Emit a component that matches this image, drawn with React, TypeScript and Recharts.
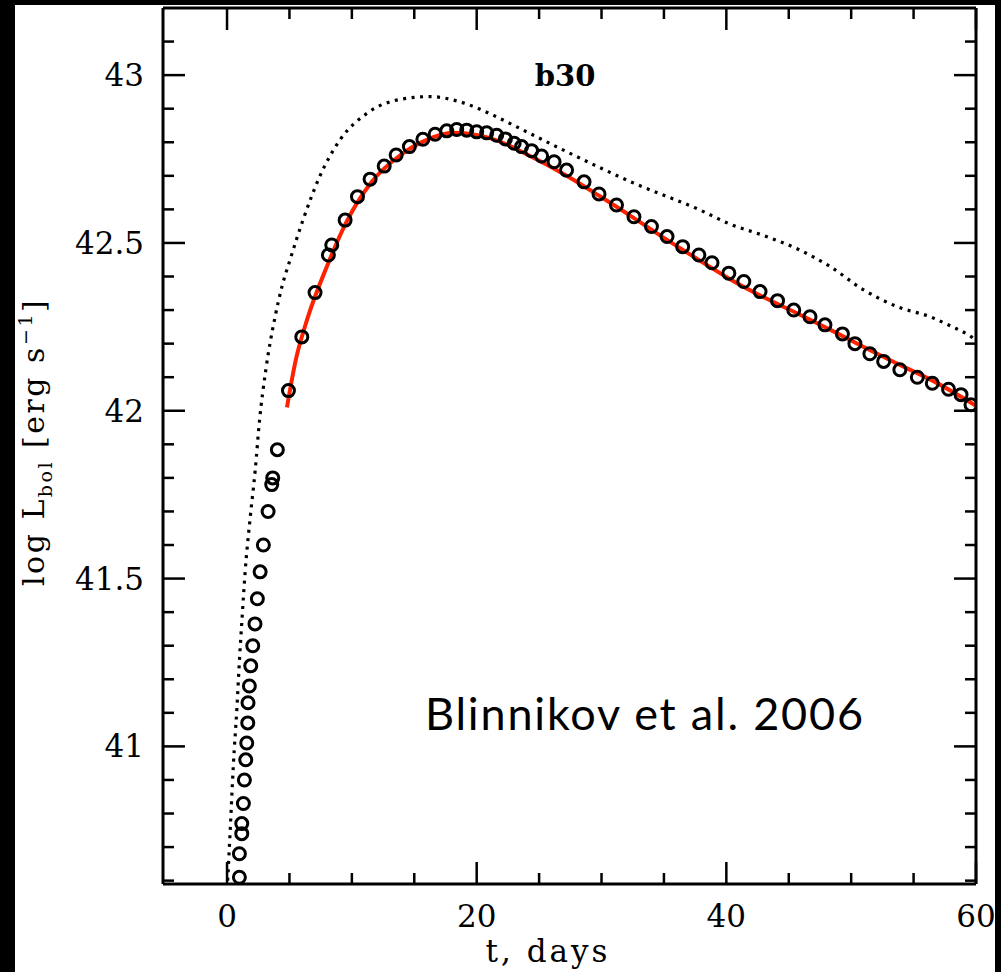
import React from 'react';
import { ComposedChart, Line, Scatter, XAxis, YAxis } from 'recharts';

// dotted model curve
const modelT = [0.05, 0.24, 0.5, 0.8, 1.0, 1.2, 1.45, 1.85, 2.25, 2.6, 3.1, 3.85, 4.4, 5.05, 6.1, 7.45, 9.05, 11.2, 13.9, 16.3, 18.7, 21.35, 23.2, 27.2, 32.6, 37.9, 40.3, 43.0, 45.7, 48.3, 51.0, 53.7, 56.4, 58.0, 59.6, 60];
const modelL = [40.6, 40.74, 40.94, 41.12, 41.26, 41.38, 41.52, 41.68, 41.82, 41.97, 42.12, 42.28, 42.37, 42.45, 42.57, 42.7, 42.807, 42.886, 42.928, 42.936, 42.92, 42.88, 42.846, 42.772, 42.678, 42.598, 42.556, 42.522, 42.482, 42.43, 42.36, 42.31, 42.279, 42.252, 42.221, 42.21];

// red fit
const fitT = [4.8, 5.5, 6.4, 8.0, 9.6, 11.5, 13.9, 16.0, 18.1, 20.0, 22.0, 24.0, 27.2, 30.0, 32.6, 35.0, 37.9, 40.3, 43.0, 45.7, 48.5, 51.0, 53.7, 56.4, 60];
const fitL = [42.01, 42.15, 42.27, 42.43, 42.565, 42.678, 42.762, 42.807, 42.828, 42.822, 42.8, 42.764, 42.7, 42.636, 42.574, 42.515, 42.447, 42.392, 42.338, 42.29, 42.238, 42.19, 42.14, 42.092, 42.015];

// open circles
const obsT = [0.99, 0.99, 1.18, 1.18, 1.31, 1.39, 1.5, 1.58, 1.66, 1.68, 1.79, 1.9, 2.06, 2.24, 2.43, 2.65, 2.91, 3.29, 3.58, 3.66, 4.03, 4.92, 5.99, 7.05, 8.12, 8.39, 9.46, 10.45, 11.46, 12.59, 13.55, 14.61, 15.69, 16.67, 17.6, 18.4, 19.2, 20.0, 20.8, 21.6, 22.3, 23.0, 23.6, 24.4, 25.2, 26.2, 27.2, 28.6, 29.8, 31.2, 32.6, 34.0, 35.25, 36.5, 37.8, 38.85, 40.2, 41.4, 42.7, 44.1, 45.4, 46.7, 47.9, 49.3, 50.3, 51.5, 52.6, 53.9, 55.3, 56.5, 57.8, 58.8, 59.6];
const obsL = [40.61, 40.68, 40.74, 40.77, 40.83, 40.9, 40.96, 41.01, 41.07, 41.13, 41.18, 41.24, 41.3, 41.365, 41.44, 41.52, 41.6, 41.7, 41.78, 41.8, 41.884, 42.06, 42.22, 42.352, 42.464, 42.494, 42.568, 42.638, 42.69, 42.729, 42.762, 42.787, 42.809, 42.824, 42.834, 42.838, 42.836, 42.831, 42.828, 42.821, 42.81, 42.797, 42.787, 42.775, 42.759, 42.742, 42.717, 42.682, 42.646, 42.613, 42.578, 42.549, 42.519, 42.489, 42.464, 42.441, 42.41, 42.385, 42.355, 42.328, 42.3, 42.28, 42.256, 42.229, 42.2, 42.17, 42.147, 42.122, 42.1, 42.082, 42.064, 42.048, 42.018];

const xTicks = [0, 5, 10, 15, 20, 25, 30, 35, 40, 45, 50, 55, 60];
const xLabels = [0, 20, 40, 60];
const yTicks = [40.6, 40.7, 40.8, 40.9, 41, 41.1, 41.2, 41.3, 41.4, 41.5, 41.6, 41.7, 41.8, 41.9, 42, 42.1, 42.2, 42.3, 42.4, 42.5, 42.6, 42.7, 42.8, 42.9, 43, 43.1];
const yLabels = [41, 41.5, 42, 42.5, 43];

const zip = (ts: number[], ls: number[]) => ts.map((t, i) => ({ t, L: ls[i] }));
const modelData = zip(modelT, modelL);
const fitData = zip(fitT, fitL);
const obsData = zip(obsT, obsL);

const serif = '"DejaVu Serif", serif';
const frame = { stroke: '#000', strokeWidth: 3 };
const isIn = (list: number[], v: number) => list.some((l) => Math.abs(l - v) < 1e-6);

const LeftTick = ({ x, y, payload }: any) => {
  const major = isIn(yLabels, payload.value);
  return (
    <g>
      <line x1={x} y1={y} x2={x + (major ? 22 : 11)} y2={y} stroke="#000" strokeWidth={2.5} />
      {major && (
        <text x={x - 19} y={y + 11} textAnchor="end" fontFamily={serif} fontSize={31} fill="#000">
          {payload.value}
        </text>
      )}
    </g>
  );
};

const RightTick = ({ x, y, payload }: any) => {
  const major = isIn(yLabels, payload.value);
  return <line x1={x} y1={y} x2={x - (major ? 22 : 11)} y2={y} stroke="#000" strokeWidth={2.5} />;
};

const BottomTick = ({ x, y, payload }: any) => {
  const major = isIn(xLabels, payload.value);
  return (
    <g>
      <line x1={x} y1={y} x2={x} y2={y - (major ? 22 : 11)} stroke="#000" strokeWidth={2.5} />
      {major && (
        <text x={x} y={y + 43} textAnchor="middle" fontFamily={serif} fontSize={31} fill="#000">
          {payload.value}
        </text>
      )}
    </g>
  );
};

const TopTick = ({ x, y, payload }: any) => {
  const major = isIn(xLabels, payload.value);
  return <line x1={x} y1={y} x2={x} y2={y + (major ? 22 : 11)} stroke="#000" strokeWidth={2.5} />;
};

const Ring = ({ cx, cy }: any) => (
  <circle cx={cx} cy={cy} r={6} fill="none" stroke="#000" strokeWidth={3} />
);

export default function App() {
  return (
    <div style={{ position: 'absolute', left: 0, top: 0, width: 1001, height: 972, background: '#000', overflow: 'hidden' }}>
      <div style={{ position: 'absolute', left: 15, top: 5, width: 980, height: 967, background: '#fff' }} />
      <div style={{ position: 'absolute', left: 0, top: 0 }}>
        <ComposedChart width={1001} height={972} margin={{ top: 7, right: 24, bottom: 0, left: 0 }}>
          <XAxis
            dataKey="t"
            type="number"
            domain={[-5.13, 60]}
            allowDataOverflow
            ticks={xTicks}
            interval={0}
            height={88}
            tickSize={0}
            tickMargin={0}
            tickLine={false}
            axisLine={frame}
            tick={<BottomTick />}
          />
          <XAxis
            xAxisId="top"
            dataKey="t"
            orientation="top"
            type="number"
            domain={[-5.13, 60]}
            allowDataOverflow
            ticks={xTicks}
            interval={0}
            height={1}
            tickSize={0}
            tickMargin={0}
            tickLine={false}
            axisLine={frame}
            tick={<TopTick />}
          />
          <YAxis
            dataKey="L"
            type="number"
            domain={[40.59, 43.2]}
            allowDataOverflow
            ticks={yTicks}
            interval={0}
            width={163}
            tickSize={0}
            tickMargin={0}
            tickLine={false}
            axisLine={frame}
            tick={<LeftTick />}
          />
          <YAxis
            yAxisId="right"
            dataKey="L"
            orientation="right"
            type="number"
            domain={[40.59, 43.2]}
            allowDataOverflow
            ticks={yTicks}
            interval={0}
            width={1}
            tickSize={0}
            tickMargin={0}
            tickLine={false}
            axisLine={frame}
            tick={<RightTick />}
          />
          <Line
            data={modelData}
            dataKey="L"
            type="monotone"
            stroke="#000"
            strokeWidth={3.2}
            strokeDasharray="3 5.5"
            dot={false}
            activeDot={false}
            isAnimationActive={false}
          />
          <Scatter data={obsData} dataKey="L" shape={<Ring />} isAnimationActive={false} />
          <Line
            data={fitData}
            dataKey="L"
            type="monotone"
            stroke="#ff2200"
            strokeWidth={4}
            dot={false}
            activeDot={false}
            isAnimationActive={false}
          />
          <Line
            data={fitData}
            dataKey="L"
            xAxisId="top"
            yAxisId="right"
            stroke="none"
            dot={false}
            activeDot={false}
            legendType="none"
            isAnimationActive={false}
          />
        </ComposedChart>
      </div>
      <svg width={1001} height={972} style={{ position: 'absolute', left: 0, top: 0, pointerEvents: 'none' }}>
        <text x={565} y={86} textAnchor="middle" fontFamily={serif} fontWeight="bold" fontSize={29} fill="#000">
          b30
        </text>
        <text x={425} y={730} fontFamily='"Lato", "Open Sans", sans-serif' fontSize={45} fill="#000" textLength={438} lengthAdjust="spacing">
          Blinnikov et al. 2006
        </text>
        <text x={548} y={962} textAnchor="middle" fontFamily={serif} fontSize={31} letterSpacing={3} fill="#000">
          t, days
        </text>
        <text transform="rotate(-90 44 586)" x={44} y={586} fontFamily={serif} fontSize={30} letterSpacing={2.5} fill="#000">
          log L
          <tspan fontSize={19} dy={8}>bol</tspan>
          <tspan dy={-8}> [erg s</tspan>
          <tspan fontSize={19} dy={-12}>−1</tspan>
          <tspan dy={12}>]</tspan>
        </text>
      </svg>
      <div style={{ position: 'absolute', left: 995, top: 0, width: 6, height: 972, background: '#000' }} />
    </div>
  );
}
